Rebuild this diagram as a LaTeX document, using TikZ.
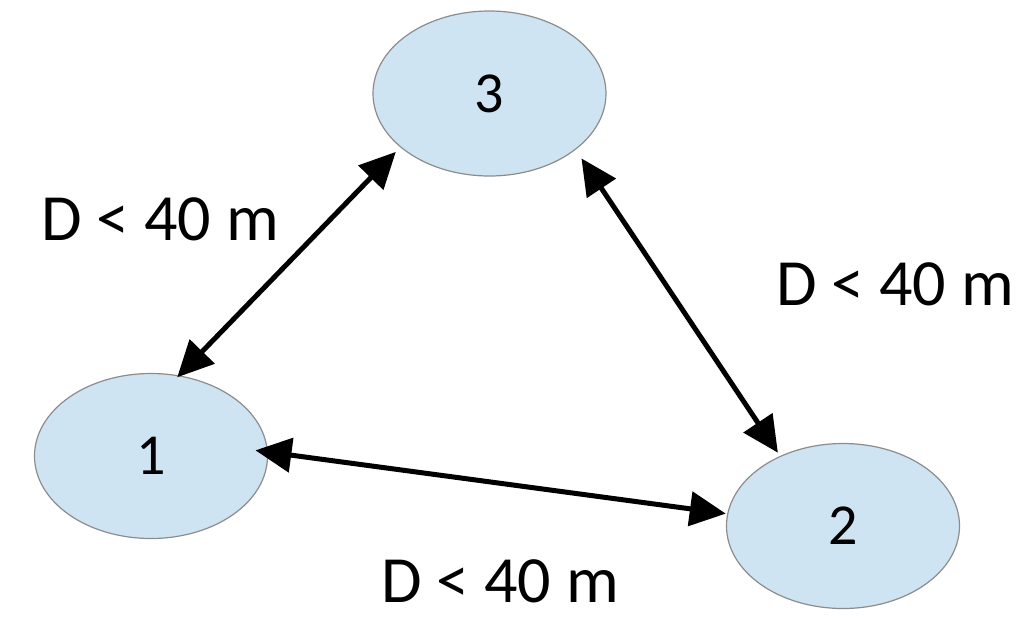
\documentclass[tikz,border=0pt]{standalone}
\usepackage{fontspec}
\setmainfont{Carlito}
\usetikzlibrary{shapes.geometric,arrows.meta}
\definecolor{nodefill}{RGB}{207,228,242}
\definecolor{nodeedge}{RGB}{140,140,140}
\tikzset{
  station/.style={ellipse, draw=nodeedge, fill=nodefill, line width=1.2pt,
    minimum width=233pt, minimum height=165pt, inner sep=0pt, outer sep=0pt,
    font=\fontsize{58}{62}\selectfont},
  link/.style={line width=5pt,
    {Triangle[length=36pt,width=34pt]}-{Triangle[length=36pt,width=34pt]}},
  dist/.style={anchor=base, font=\fontsize{66}{72}\selectfont, inner sep=0pt}
}
\begin{document}
\begin{tikzpicture}[x=1pt,y=-1pt]
\useasboundingbox (0,0) rectangle (1024,643);
\node[station] (n3) at (489.5,93.5) {3};
\node[station] (n1) at (151,456) {1};
\node[station] (n2) at (843,526) {2};
\draw[link, shorten <=-2pt, shorten >=7pt] (n1.71.4) -- (n3.211.6);
\draw[link, shorten <=-12pt, shorten >=2pt] (n1.2.2) -- (n2.174.6);
\draw[link, shorten <=11pt, shorten >=4.5pt] (n3.-33) -- (n2.132.1);
\node[dist] (l13) at (160,240) {D < 40 m};
\node[dist] (l32) at (895,305) {D < 40 m};
\node[dist] (l12) at (500,602) {D < 40 m};
\end{tikzpicture}
\end{document}
